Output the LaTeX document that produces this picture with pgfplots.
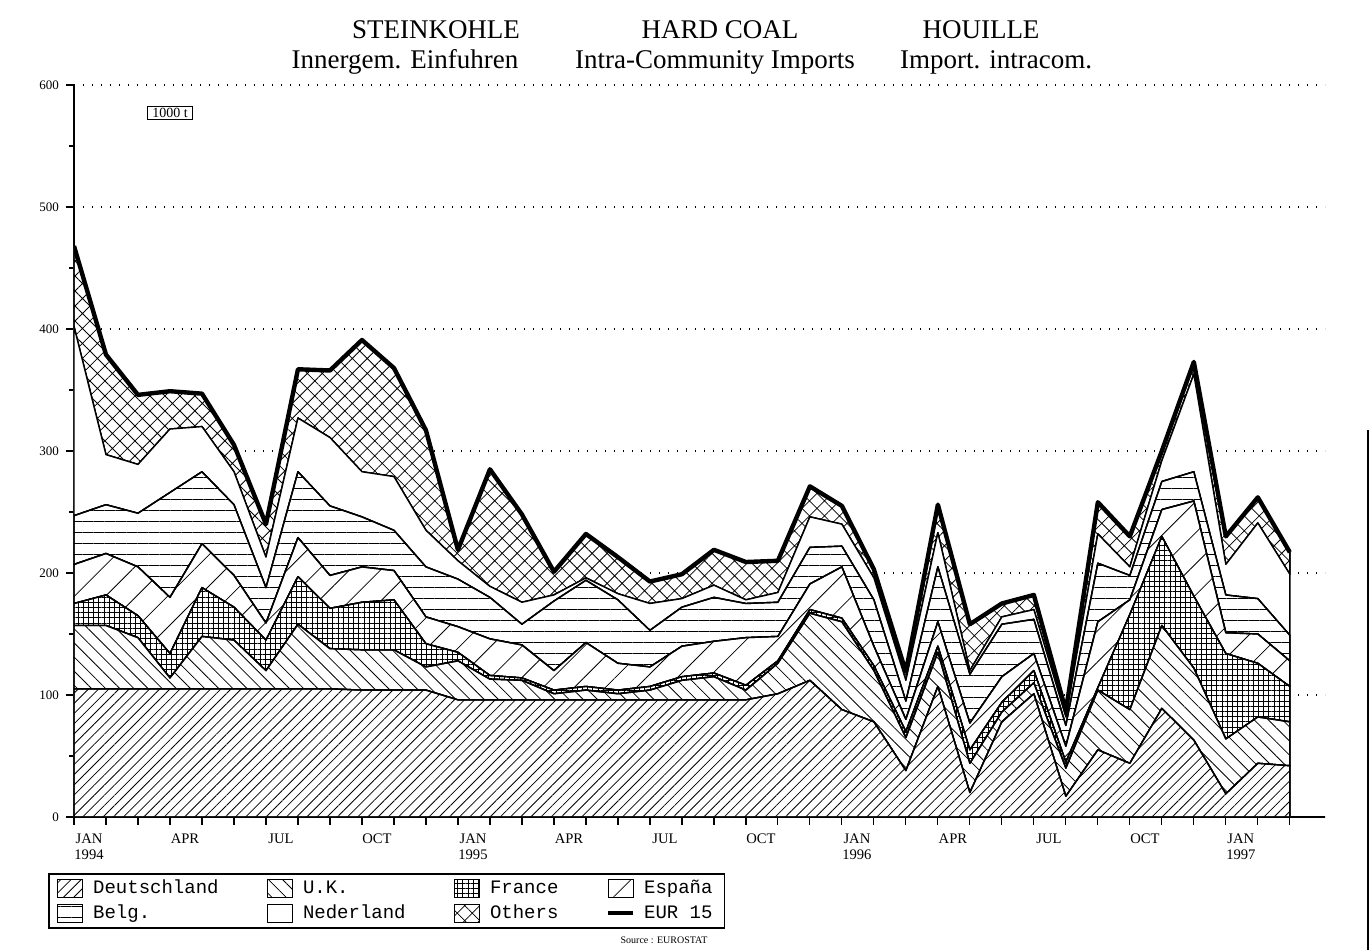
\documentclass[border=0pt]{standalone}
\usepackage{fontspec}
\setmainfont{Liberation Serif}
\newfontfamily\monofont{Liberation Mono}
\usepackage{pgfplots}
\pgfplotsset{compat=1.18}
\usepackage{pgfplotstable}
\usetikzlibrary{patterns.meta}

\pgfplotstableread{
i  D   UK  Fr  Es  Be  Ne  Ot  Tot
0  105 52  18  32  40  155 66  468
1  105 52  25  34  40  41  82  379
2  105 42  18  40  44  40  57  346
3  105 9   20  46  86  52  31  349
4  105 43  40  36  59  37  27  347
5  105 40  27  26  58  27  22  305
6  105 15  25  14  29  25  27  240
7  105 53  39  32  54  44  40  367
8  105 33  33  27  57  56  55  366
9  104 33  39  29  41  37  108 391
10 104 33  41  24  33  44  89  368
11 104 19  19  22  41  30  82  317
12 96  32  7   21  39  15  9   219
13 96  17  3   30  34  9   96  285
14 96  16  2   27  17  18  72  248
15 96  5   3   16  57  5   19  201
16 96  8   3   36  51  2   36  232
17 96  5   3   22  52  5   30  213
18 96  8   3   16  30  22  18  193
19 96  16  3   25  32  7   20  199
20 96  19  3   26  36  10  29  219
21 96  8   4   39  28  3   31  209
22 101 25  2   20  28  8   26  210
23 112 55  3   21  30  25  25  271
24 88  72  3   42  17  18  15  255
25 78  42  4   16  38  18  7   203
26 38  27  5   10  15  17  7   119
27 107 28  5   20  45  28  23  256
28 20  24  11  22  40  3   38  158
29 78  8   8   21  43  6   11  175
30 101 9   10  14  28  8   12  182
31 17  23  5   13  17  7   5   87
32 55  49  2   54  48  24  26  258
33 44  44  78  12  20  7   25  230
34 89  68  73  22  23  17  8   300
35 63  59  59  78  24  80  10  373
36 19  45  70  17  31  25  23  230
37 44  38  44  24  29  62  21  262
38 42  36  29  21  21  50  18  217
}\datatable

\begin{document}
\begin{tikzpicture}[x=1pt,y=1pt]
% page bounding box (1370 x 950 px at 0.5pt/px)
\path (-37,-66.5) rectangle (648,408.5);
\begin{axis}[
  at={(0,0)}, anchor=south west,
  scale only axis, width=625.5pt, height=366pt,
  xmin=0, xmax=39.1, ymin=0, ymax=600,
  stack plots=y,
  axis lines*=left,
  x axis line style={line width=1.2pt},
  y axis line style={line width=0.7pt},
  tick align=outside,
  major tick length=4pt, minor tick length=2.5pt,
  tick style={black, line width=0.6pt},
  xtick={0,...,38}, xticklabels={},
  extra x ticks={0.47,3.47,6.47,9.47,12.47,15.47,18.47,21.47,24.47,27.47,30.47,33.47,36.47},
  extra x tick labels={{JAN\\1994},APR,JUL,OCT,{JAN\\1995},APR,JUL,OCT,{JAN\\1996},APR,JUL,OCT,{JAN\\1997}},
  extra x tick style={major tick length=0pt, xticklabel style={yshift=-5pt}},
  xticklabel style={font=\fontsize{7.3}{8}\selectfont, align=center},
  ytick={0,100,...,600}, minor ytick={50,150,...,550},
  yticklabel style={font=\fontsize{6.5}{7}\selectfont},
  /pgf/number format/assume math mode=true,
  ymajorgrids,
  grid style={black, line width=0.7pt, dash pattern=on 0.7pt off 3.8pt},
  every axis plot/.append style={line width=0.7pt, line join=round},
  legend image code/.code={\draw[#1] (0pt,-4.5pt) rectangle (12.5pt,4.5pt); \path (15.5pt,0pt);},
  legend columns=4,
  legend cell align=left,
  legend style={at={(-0.0208,-0.0765)}, anchor=north west, draw=black, line width=0.8pt,
    font=\monofont\fontsize{9.5}{10}\selectfont, inner xsep=4pt, inner ysep=1pt, row sep=0pt,
    /tikz/every even column/.append style={column sep=22pt}},
]
\addplot[draw=black, preaction={fill=white}, pattern={Lines[angle=45,distance=3.6pt,line width=0.4pt]}]
  table[x=i,y=D]{\datatable} \closedcycle;
\addlegendentry{\strut Deutschland}
\addplot[draw=black, preaction={fill=white}, pattern={Lines[angle=-45,distance=5pt,line width=0.4pt]}]
  table[x=i,y=UK]{\datatable} \closedcycle;
\addlegendentry{\strut U.K.}
\addplot[draw=black, preaction={fill=white}, pattern={Hatch[angle=0,distance=2.6pt,line width=0.35pt]}]
  table[x=i,y=Fr]{\datatable} \closedcycle;
\addlegendentry{\strut France}
\addplot[draw=black, preaction={fill=white}, pattern={Lines[angle=45,distance=11pt,line width=0.4pt]}]
  table[x=i,y=Es]{\datatable} \closedcycle;
\addlegendentry{\strut España}
\addplot[draw=black, preaction={fill=white}, pattern={Lines[angle=0,distance=5.5pt,line width=0.4pt]}]
  table[x=i,y=Be]{\datatable} \closedcycle;
\addlegendentry{\strut Belg.}
\addplot[draw=black, fill=white]
  table[x=i,y=Ne]{\datatable} \closedcycle;
\addlegendentry{\strut Nederland}
\addplot[draw=black, preaction={fill=white}, pattern={Hatch[angle=45,distance=5.3pt,line width=0.4pt]}]
  table[x=i,y=Ot]{\datatable} \closedcycle;
\addlegendentry{\strut Others}
\addlegendimage{legend image code/.code={\draw[line width=2pt] (0pt,0pt) -- (12.5pt,0pt); \path (15.5pt,0pt);}}
\addlegendentry{\strut EUR 15}
\node[draw, line width=0.6pt, inner xsep=2.5pt, inner ysep=1pt, font=\fontsize{7}{7}\selectfont] at (axis cs:3,577) {1000 t};
\end{axis}
\begin{axis}[
  at={(0,0)}, anchor=south west,
  scale only axis, width=625.5pt, height=366pt,
  xmin=0, xmax=39.1, ymin=0, ymax=600,
  hide axis,
]
\addplot[black, line width=2.2pt, line join=round] table[x=i,y=Tot]{\datatable};
\end{axis}
\begin{scope}[every node/.style={font=\fontsize{13.5}{14}\selectfont}]
\node at (181,393.5) {STEINKOHLE};
\node at (323,393.5) {HARD COAL};
\node at (453.5,393.5) {HOUILLE};
\node at (165.5,377.5) {Innergem. Einfuhren};
\node at (320.5,377.5) {Intra-Community Imports};
\node at (461,377.5) {Import. intracom.};
\end{scope}
\node[font=\fontsize{5}{5}\selectfont] at (295,-61.5) {Source : EUROSTAT};
\draw[line width=0.6pt] (647,193.5) -- (647,-66.5);
\end{tikzpicture}
\end{document}
